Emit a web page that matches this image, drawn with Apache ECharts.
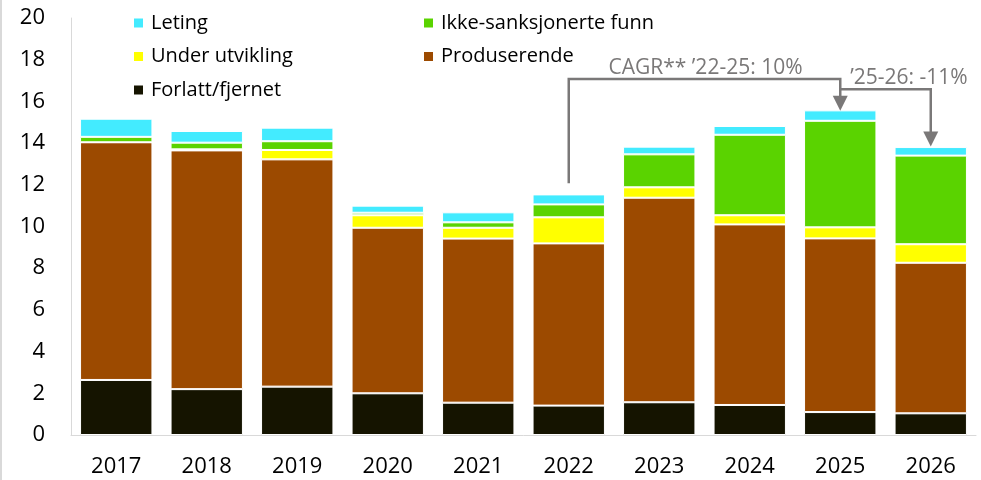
<!DOCTYPE html>
<html>
<head>
<meta charset="utf-8">
<script src="https://cdn.jsdelivr.net/npm/echarts@6/dist/echarts.min.js"></script>
<style>
  html, body { margin: 0; padding: 0; background: #fff; }
  #chart { width: 981px; height: 480px; }
</style>
</head>
<body>
<div id="chart"></div>
<script>
// år på x-aksen
const years = ["2017", "2018", "2019", "2020", "2021", "2022", "2023", "2024", "2025", "2026"];

// verdier per kategori, nedenfra og opp i stabelen
const forlatt = [2.64, 2.2, 2.32, 2.0, 1.55, 1.41, 1.57, 1.44, 1.1, 1.04];
const produserende = [11.4, 11.45, 10.9, 7.94, 7.87, 7.78, 9.81, 8.66, 8.33, 7.22];
const underUtvikling = [0, 0.05, 0.45, 0.6, 0.52, 1.25, 0.5, 0.44, 0.53, 0.89];
const ikkeSanksjonert = [0.26, 0.32, 0.42, 0.12, 0.26, 0.62, 1.58, 3.86, 5.11, 4.25];
const leting = [0.87, 0.56, 0.65, 0.34, 0.48, 0.48, 0.37, 0.42, 0.5, 0.41];

const colors = {
    leting: "#43EBFF",
    ikke: "#5AD300",
    under: "#FFFF00",
    prod: "#9C4A00",
    forlatt: "#151400"
};

// CAGR-piler: [fra år, til år, høyde på linjen, start nede, toppen av pilspissen]
const arrowSpecs = [
    ["2022", "2025", 17.07, 12.08, 15.55],
    ["2025", "2026", 16.58, null, 13.84]
];
const arrowLabels = ["CAGR** \u201922-25: 10%", "\u201925-26: -11%"];

const font = "'Open Sans', 'Noto Sans', sans-serif";
const grey = "#7A7878";

const chart = echarts.init(document.getElementById("chart"), null, { renderer: "canvas" });

function makeSeries(name, data, color) {
    return {
        name: name,
        type: "bar",
        stack: "total",
        barCategoryGap: "20%",
        itemStyle: {
            color: color,
            borderColor: "#ffffff",
            borderWidth: 1
        },
        emphasis: { disabled: true },
        data: data
    };
}

const legendBase = {
    orient: "vertical",
    icon: "rect",
    itemWidth: 11,
    itemHeight: 11,
    itemGap: 13.5,
    selectedMode: false,
    textStyle: {
        fontFamily: font,
        fontSize: 20,
        lineHeight: 20,
        color: "#000",
        padding: [0, 0, 0, 2]
    }
};

chart.setOption({
    animation: false,
    grid: {
        left: 71,
        right: 5,
        top: 18,
        bottom: 45
    },
    legend: [
        Object.assign({}, legendBase, {
            left: 127,
            top: 8,
            data: ["Leting", "Under utvikling", "Forlatt/fjernet"]
        }),
        Object.assign({}, legendBase, {
            left: 417,
            top: 8,
            data: ["Ikke-sanksjonerte funn", "Produserende"]
        })
    ],
    xAxis: {
        type: "category",
        data: years,
        axisLine: { lineStyle: { color: "#D9D9D9", width: 1 } },
        axisTick: { show: false },
        axisLabel: {
            fontFamily: font,
            fontSize: 22,
            color: "#000",
            margin: 21
        }
    },
    yAxis: {
        type: "value",
        min: 0,
        max: 20,
        interval: 2,
        axisLine: { show: true, lineStyle: { color: "#D9D9D9", width: 1 } },
        axisTick: { show: false },
        splitLine: { show: false },
        axisLabel: {
            fontFamily: font,
            fontSize: 22,
            color: "#000",
            margin: 26
        }
    },
    series: [
        makeSeries("Forlatt/fjernet", forlatt, colors.forlatt),
        makeSeries("Produserende", produserende, colors.prod),
        makeSeries("Under utvikling", underUtvikling, colors.under),
        makeSeries("Ikke-sanksjonerte funn", ikkeSanksjonert, colors.ikke),
        makeSeries("Leting", leting, colors.leting)
    ]
});

// tegner pilene ut fra aksenes egne koordinater
function buildArrows() {
    const elements = [];
    const px = (x, y) => chart.convertToPixel({ gridIndex: 0 }, [x, y]);

    arrowSpecs.forEach(spec => {
        const [fromYear, toYear, lineY, startY, tipY] = spec;
        const top = px(fromYear, lineY);
        const end = px(toYear, lineY);
        const tip = px(toYear, tipY);
        const points = [];
        if(startY !== null) {
            points.push([top[0], px(fromYear, startY)[1]]);
        }
        points.push([top[0], top[1]], [end[0], end[1]], [end[0], tip[1] - 14]);
        elements.push({
            type: "polyline",
            shape: { points: points },
            style: { stroke: grey, lineWidth: 2.5, fill: null },
            z: 10
        });
        elements.push({
            type: "polygon",
            shape: {
                points: [[end[0] - 7.5, tip[1] - 15], [end[0] + 7.5, tip[1] - 15], [end[0], tip[1]]]
            },
            style: { fill: grey },
            z: 10
        });
    });

    const a = px("2022", arrowSpecs[0][2]);
    const b = px("2025", arrowSpecs[0][2]);
    elements.push({
        type: "text",
        x: (a[0] + b[0]) / 2 + 1,
        y: a[1] - 1,
        style: {
            text: arrowLabels[0],
            font: "21px " + font,
            fill: grey,
            align: "center",
            verticalAlign: "bottom"
        },
        z: 11
    });
    const c = px("2025", arrowSpecs[1][2]);
    elements.push({
        type: "text",
        x: c[0] + 10,
        y: c[1] - 1,
        style: {
            text: arrowLabels[1],
            font: "21px " + font,
            fill: grey,
            align: "left",
            verticalAlign: "bottom"
        },
        z: 11
    });

    // tynn grå ramme på venstre kant
    elements.push({
        type: "rect",
        shape: { x: 0, y: 0, width: 2, height: 480 },
        style: { fill: "#D9D9D9" },
        z: 1
    });

    chart.setOption({ graphic: elements });
}

buildArrows();
</script>
</body>
</html>
